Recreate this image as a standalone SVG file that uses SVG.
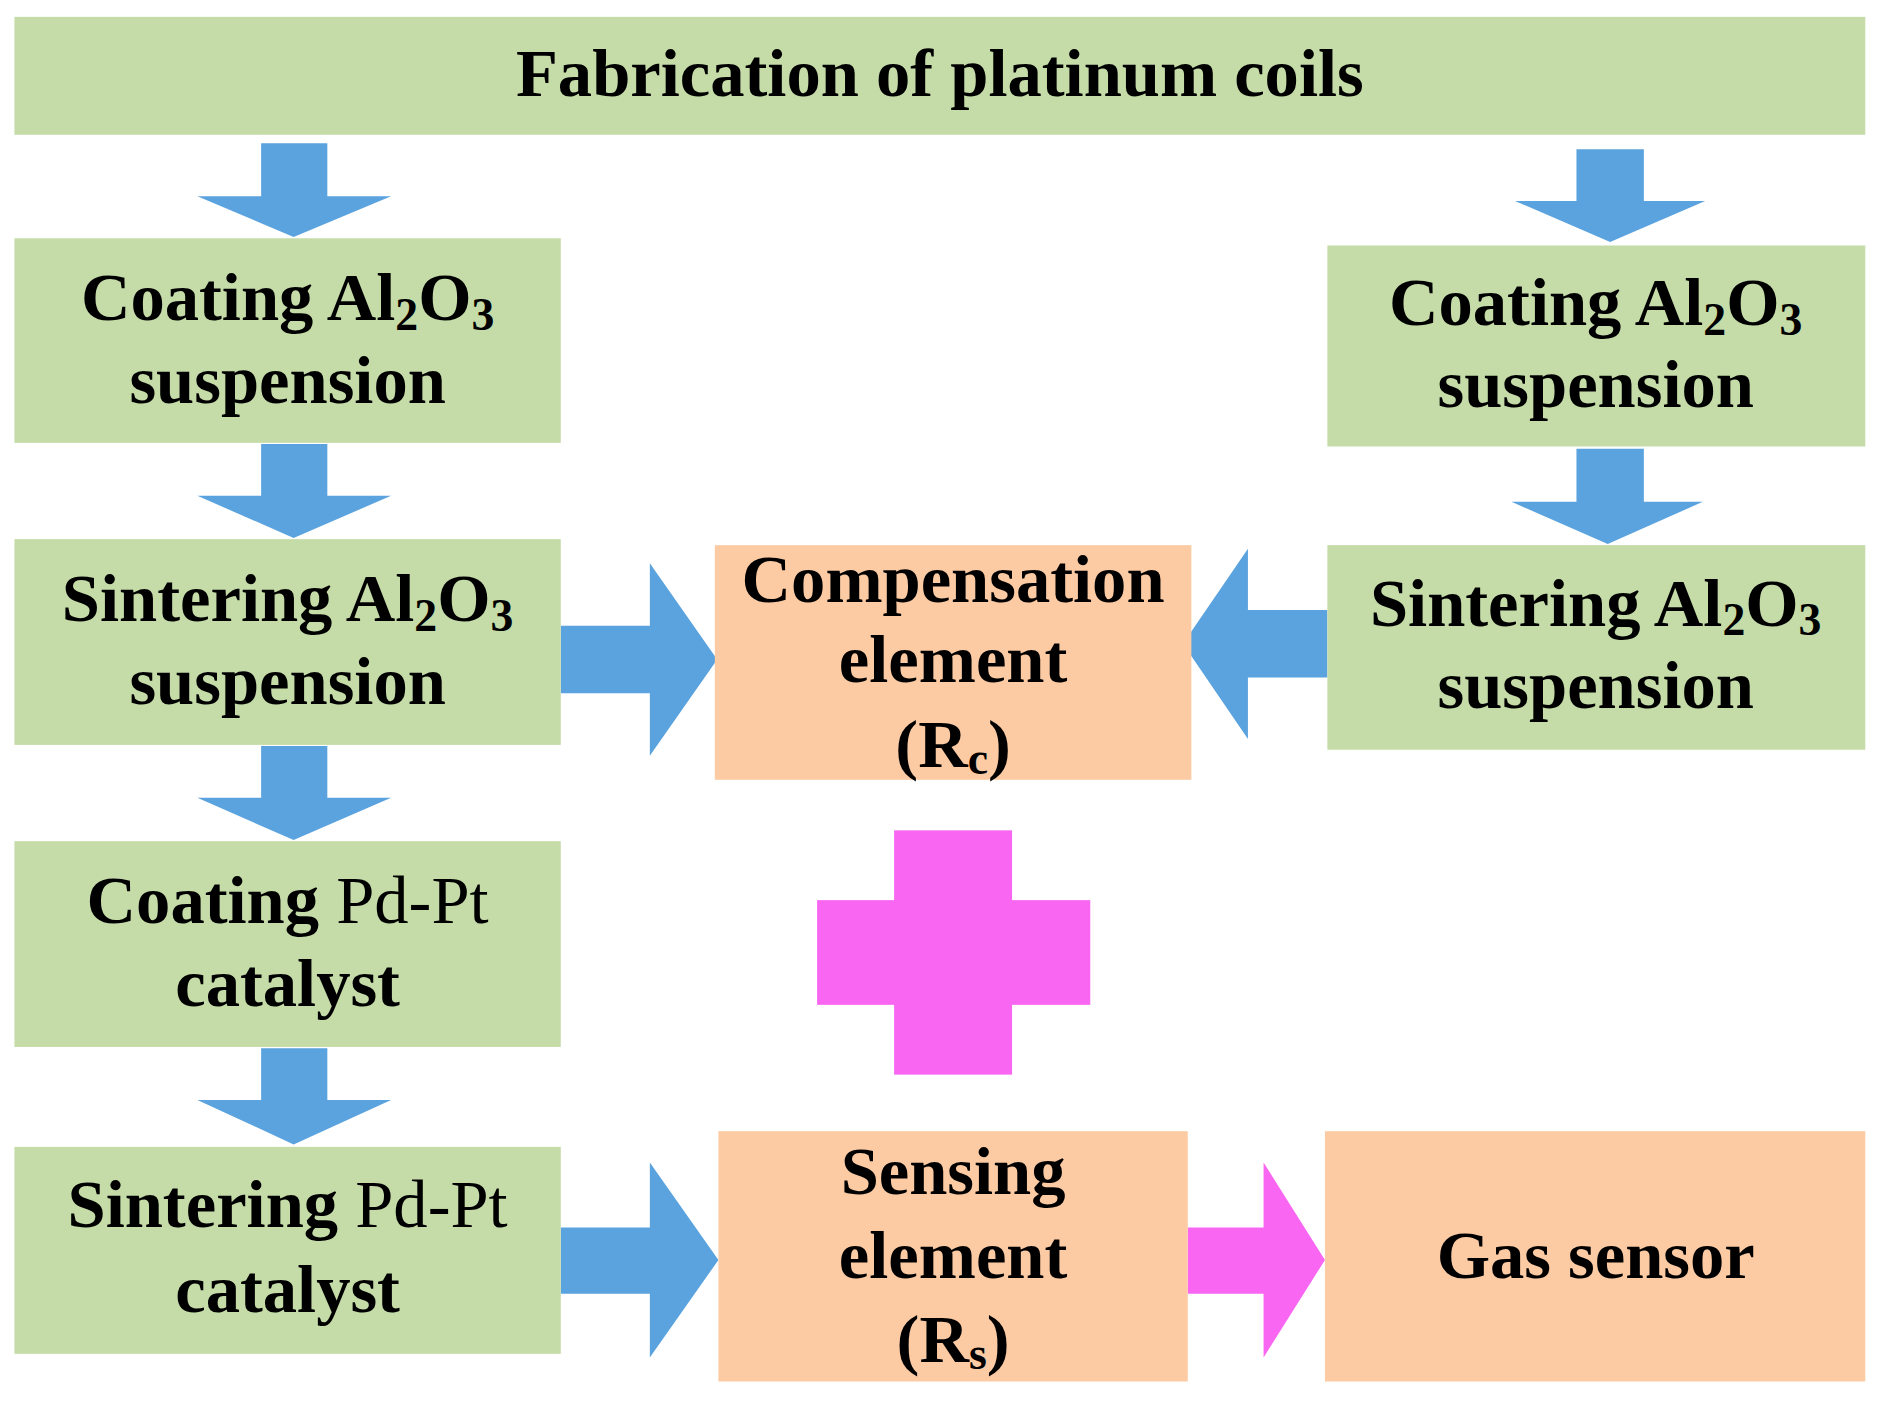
<svg xmlns="http://www.w3.org/2000/svg" width="1887" height="1402" viewBox="0 0 1887 1402">
<style>
.g{fill:#C5DCA8}.o{fill:#FCCBA4}.b{fill:#5BA3DE}.m{fill:#F866F2}
text{font-family:"Liberation Serif","Times New Roman",serif;font-size:57px;font-weight:bold;fill:#000;text-anchor:middle}
.n{font-weight:normal}.s{font-size:38px}
</style>
<rect width="1887" height="1402" fill="#fff"/>
<g transform="scale(1.2034)">
<g id="connectors">
<polygon class="b" points="217,119 272,119 272,163 325,163 244,197 164,163 217,163"/>
<polygon class="b" points="217,369 272,369 272,412 325,412 244,447 164,412 217,412"/>
<polygon class="b" points="217,620 272,620 272,663 325,663 244,698 164,663 217,663"/>
<polygon class="b" points="217,871 272,871 272,914 325,914 244,951 164,914 217,914"/>
<polygon class="b" points="1310,124 1366,124 1366,167 1417,167 1338,201 1259,167 1310,167"/>
<polygon class="b" points="1310,373 1366,373 1366,417 1415,417 1336,452 1256,417 1310,417"/>
<polygon class="b" points="466,520 540,520 540,468 596,548 540,628 540,576 466,576"/>
<polygon class="b" points="1103,507 1037,507 1037,456 983,535 1037,614 1037,563 1103,563"/>
<polygon class="b" points="466,1020 540,1020 540,966 597,1047 540,1128 540,1075 466,1075"/>
<polygon class="m" points="987,1020 1050,1020 1050,966 1101,1047 1050,1128 1050,1075 987,1075"/>
</g>
<g id="title"><rect class="g" x="12" y="14" width="1538" height="98"/><text x="781" y="80">Fabrication of platinum coils</text></g>
<g id="l1"><rect class="g" x="12" y="198" width="454" height="170"/><text x="239" y="266">Coating Al<tspan class="s" dy="8">2</tspan><tspan dy="-8">O</tspan><tspan class="s" dy="8">3</tspan></text><text x="239" y="335">suspension</text></g>
<g id="l2"><rect class="g" x="12" y="448" width="454" height="171"/><text x="239" y="516">Sintering Al<tspan class="s" dy="8">2</tspan><tspan dy="-8">O</tspan><tspan class="s" dy="8">3</tspan></text><text x="239" y="585">suspension</text></g>
<g id="l3"><rect class="g" x="12" y="699" width="454" height="171"/><text x="239" y="767">Coating <tspan class="n">Pd-Pt</tspan></text><text x="239" y="836">catalyst</text></g>
<g id="l4"><rect class="g" x="12" y="953" width="454" height="172"/><text x="239" y="1020">Sintering <tspan class="n">Pd-Pt</tspan></text><text x="239" y="1090">catalyst</text></g>
<g id="r1"><rect class="g" x="1103" y="204" width="447" height="167"/><text x="1326" y="270">Coating Al<tspan class="s" dy="8">2</tspan><tspan dy="-8">O</tspan><tspan class="s" dy="8">3</tspan></text><text x="1326" y="338">suspension</text></g>
<g id="r2"><rect class="g" x="1103" y="453" width="447" height="170"/><text x="1326" y="520">Sintering Al<tspan class="s" dy="8">2</tspan><tspan dy="-8">O</tspan><tspan class="s" dy="8">3</tspan></text><text x="1326" y="588">suspension</text></g>
<g id="comp"><rect class="o" x="594" y="453" width="396" height="195"/><text x="792" y="500">Compensation</text><text x="792" y="567">element</text><text x="792" y="637">(R<tspan class="s" dy="6">c</tspan><tspan dy="-6">)</tspan></text></g>
<g id="plus"><rect class="m" x="743" y="690" width="98" height="203"/><rect class="m" x="679" y="748" width="227" height="87"/></g>
<g id="sens"><rect class="o" x="597" y="940" width="390" height="208"/><text x="792" y="992">Sensing</text><text x="792" y="1062">element</text><text x="792" y="1132">(R<tspan class="s" dy="6">s</tspan><tspan dy="-6">)</tspan></text></g>
<g id="gas"><rect class="o" x="1101" y="940" width="449" height="208"/><text x="1326" y="1062">Gas sensor</text></g>
</g>
</svg>
